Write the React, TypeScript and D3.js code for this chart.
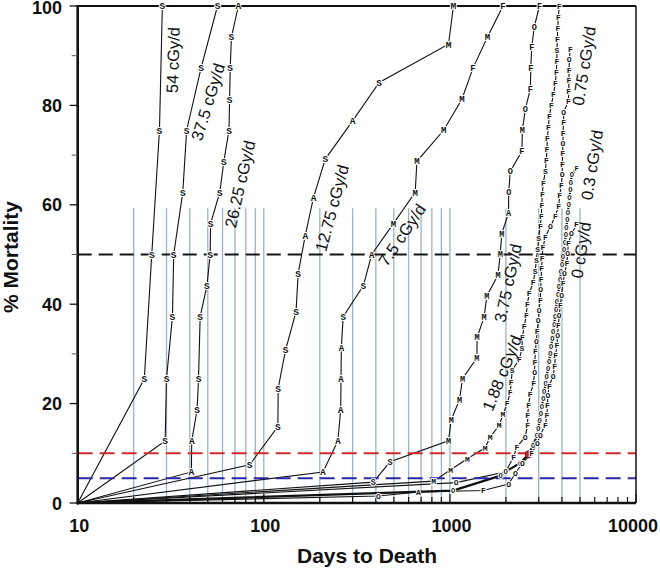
import React from 'react';
import * as d3 from 'd3';

// ---------- data ----------
const xTickValues = [10, 100, 1000, 10000];
const yTickValues = [0, 20, 40, 60, 80, 100];
const yMinorValues = [10, 30, 50, 70, 90];
const gridDays = [20, 30, 40, 50, 60, 70, 80, 90, 100, 200, 300, 400, 500, 600, 700, 800, 900, 1000, 2000, 3000, 4000, 5000];
const gridTopPct = 59.3;
const refPct = [50, 10, 5];

const s54Days = [22.8, 25, 27.5, 28.5];
const s54Pct = [25, 50, 75, 100];
const s54Marks = 'SSSS';

const s37Days = [29.5, 30, 32.3, 32.8, 36.7, 38.5, 46, 56.4];
const s37Pct = [12.5, 25, 37.5, 50, 62.5, 75, 87.5, 100];
const s37Marks = 'SSSSSSSS';

const s26Days = [40.8, 41, 43.8, 44.6, 45.5, 49.5, 51.5, 51.8, 58, 61, 65, 65.5, 66, 67, 73];
const s26Pct = [6.25, 12.5, 18.75, 25, 37.5, 43.75, 50, 56.25, 62.5, 68.75, 75, 81.25, 87.5, 93.75, 100];
const s26Marks = 'AASSSSSSSSSSSSA';

const s12Days = [84, 119, 119.5, 131, 149, 153, 167, 185, 214, 300, 417, 983, 1045];
const s12Pct = [7.7, 15.4, 23.1, 30.8, 38.5, 46.2, 53.8, 61.5, 69.2, 76.9, 84.6, 92.3, 100];
const s12Marks = 'SSSSSSAASASMM';

const s7Days = [208, 250, 259, 260, 261, 267, 343, 380, 498, 651, 665, 925, 1160, 1330, 1592, 1928];
const s7Pct = [6.25, 12.5, 18.75, 25, 31.25, 37.5, 43.75, 50, 56.25, 62.5, 68.75, 75, 81.25, 87.5, 93.75, 100];
const s7Marks = 'AAAAASSAMMMMMFMF';

const s3Days = [388, 477, 983, 1016, 1126, 1169, 1397, 1400, 1528, 1580, 1812, 1863, 1900, 2065, 2070, 2110, 2438, 2450, 2541, 2706, 2720, 2752, 2839, 3030];
const s3Pct = [4.2, 8.3, 12.5, 16.7, 20.8, 25, 29.2, 33.3, 37.5, 41.7, 45.8, 50, 54.2, 58.3, 62.5, 66.7, 70.8, 75, 79.2, 83.3, 87.5, 91.7, 95.8, 100];
const s3Marks = 'SSMMMMMMMMMMMAOOFMOFFFOF';

const s188Days = [817, 1010, 1240, 1547, 1646, 1841, 1928, 2030, 2110, 2136, 2163, 2360, 2440, 2450, 2510, 2573, 2605, 2670, 2805, 2876, 2912, 2965, 2995, 3060, 3098, 3117, 3137, 3176, 3256, 3296, 3323, 3337, 3380, 3422, 3507, 3596, 3685, 3731, 3754, 3760, 3777, 3800, 3825, 3873];
const s188Pct = [4.4, 6.7, 8.9, 11.1, 13.3, 15.6, 17.8, 20, 22.2, 24.4, 26.7, 28.9, 31.1, 33.3, 35.6, 37.8, 40, 42.2, 44.4, 46.7, 48.9, 51.1, 53.3, 55.6, 57.8, 60, 62.2, 64.4, 66.7, 68.9, 71.1, 73.3, 75.6, 77.8, 80, 82.2, 84.4, 86.7, 88.9, 91.1, 93.3, 95.6, 97.8, 100];
const s188Marks = 'MMMMMMMFFFSFSFFFFFFSSSSFFFFFSFFFFFFFFFFSFFFF';

const s075Days = [1082, 2000, 2198, 2292, 2541, 2614, 2620, 2646, 2703, 2815, 2851, 2860, 2880, 2912, 2948, 2984, 3021, 3060, 3075, 3090, 3110, 3130, 3160, 3256, 3464, 3685, 3840, 3890, 3975, 4010, 4020, 4030, 4050, 4055, 4080, 4090, 4330, 4350, 4360, 4370, 4380, 4438];
const s075Pct = [4.1, 6.3, 9.3, 11.3, 13.3, 15.7, 17.7, 19.7, 21.9, 24.1, 26.4, 28.4, 30.5, 32.5, 34.6, 36.7, 38.8, 40.9, 43, 45.1, 47.2, 49.3, 51.4, 53.5, 55.6, 57.7, 59.8, 61.9, 64, 66.1, 68.2, 70.3, 72.4, 74.5, 76.6, 78.7, 80.8, 82.9, 85, 87.1, 89.2, 91.3];
const s075Marks = 'OOFFOFFFFFOFFOFOOFOFFFFFOFFFFOFFOFFOFFFFOF';

const s03Days = [1040, 1870, 1990, 2380, 2650, 2800, 2935, 2990, 3030, 3085, 3120, 3175, 3210, 3270, 3310, 3370, 3410, 3465, 3500, 3555, 3590, 3640, 3675, 3725, 3760, 3820, 3855, 3915, 3950, 4010, 4045, 4110, 4150, 4200, 4225, 4280, 4300, 4355, 4385, 4440, 4460, 4520, 4790];
const s03Pct = [2.5, 5.5, 6.3, 8.0, 9.8, 11.6, 13.5, 15, 16.5, 18, 19.5, 21, 22.5, 24, 25.5, 27, 28.5, 30, 31.5, 33, 34.5, 36, 37.5, 39, 40.5, 42, 43.5, 45, 46.5, 48, 49.5, 51, 52.5, 54, 55.5, 57, 58.5, 60, 61.5, 63, 64.5, 66, 67.3];
const s03Marks = 'OOOORO' + 'OOOOOOOOOOOOOOOOOOOOOOOOOOOOOOOOOOOO' + 'F';

const s0Days = [413, 678, 1512, 2066, 2250, 2450, 2750, 2950, 3060, 3256, 3323, 3340, 3360, 3420, 3590, 3650, 3700, 3760, 3790, 3830, 3870, 3920, 3980, 4055, 4130, 4250, 4290, 4330, 4500, 4790];
const s0Pct = [1.4, 2.2, 2.5, 3.8, 6.0, 8.0, 10.0, 12.0, 13.7, 15.7, 17.6, 19.6, 21.6, 23.6, 25.6, 27.6, 29.8, 31.8, 33.8, 35.8, 37.8, 39.8, 41.9, 44.2, 46.2, 48.2, 50.2, 52.2, 54.2, 56];
const s0Marks = 'OAFOOOFOOFFFOFOFFFOFOFOFOFOFOF';

const seriesLabels = ['54 cGy/d', '37.5 cGy/d', '26.25 cGy/d', '12.75 cGy/d', '7.5 cGy/d', '3.75 cGy/d', '1.88 cGy/d', '0.75 cGy/d', '0.3 cGy/d', '0 cGy/d'];
const seriesDays = [s54Days, s37Days, s26Days, s12Days, s7Days, s3Days, s188Days, s075Days, s03Days, s0Days];
const seriesPct = [s54Pct, s37Pct, s26Pct, s12Pct, s7Pct, s3Pct, s188Pct, s075Pct, s03Pct, s0Pct];
const seriesMarks = [s54Marks, s37Marks, s26Marks, s12Marks, s7Marks, s3Marks, s188Marks, s075Marks, s03Marks, s0Marks];

// ---------- layout / style (not data) ----------
const labelLayout = [
  { cx: 173, cy: 60, angle: -88 },
  { cx: 208, cy: 102, angle: -73 },
  { cx: 240, cy: 184, angle: -77 },
  { cx: 332, cy: 208, angle: -75 },
  { cx: 402, cy: 235, angle: -56 },
  { cx: 508, cy: 283, angle: -78 },
  { cx: 502, cy: 373, angle: -68 },
  { cx: 584, cy: 66, angle: -81 },
  { cx: 592, cy: 165, angle: -81 },
  { cx: 581, cy: 250, angle: -81 },
];
const refColors = ['#151515', '#d12b2b', '#2a2aa6'];
const lineWidths = [1.1, 1.1, 1.1, 1.1, 1.1, 1.1, 1.1, 1.1, 2.2, 1.1];
const markSizes = [9.5, 9.5, 9.5, 9.5, 9, 8.5, 8, 8, 7, 8];

export default function App() {
  const x = d3.scaleLog().domain([10, 10000]).range([77.7, 636]);
  const y = d3.scaleLinear().domain([0, 100]).range([503, 6]);
  const line = d3.line<[number, number]>().x(d => x(d[0])).y(d => y(d[1]));
  const allTicks = x.ticks();
  const sans = '"Liberation Sans", Arial, sans-serif';
  const mono = '"Liberation Mono", "DejaVu Sans Mono", monospace';

  const series = seriesLabels.map((label, i) => ({
    label,
    pts: seriesDays[i].map((d, j) => [d, seriesPct[i][j]] as [number, number]),
    marks: seriesMarks[i],
  }));

  return (
    <svg width={660} height={571} style={{ position: 'absolute', left: 0, top: 0, background: '#fff' }}>
      <rect x={0} y={0} width={660} height={571} fill="#fff" />
      {gridDays.map(d => (
        <line key={'g' + d} x1={x(d)} x2={x(d)} y1={y(gridTopPct)} y2={y(0)} stroke="#9db2c6" strokeWidth={1.3} />
      ))}
      {series.map((s, i) => (
        <path key={'l' + i} d={line([[10, 0], ...s.pts]) || ''} fill="none" stroke="#111" strokeWidth={lineWidths[i]} />
      ))}
      {refPct.map((v, i) => (
        <line key={'r' + v} x1={x(10)} x2={x(10000)} y1={y(v)} y2={y(v)} stroke={refColors[i]} strokeWidth={2}
          strokeDasharray={i === 0 ? '14 7' : '15 7'} />
      ))}
      <line x1={x(10)} x2={x(10000)} y1={y(100)} y2={y(100)} stroke="#111" strokeWidth={2} />
      <line x1={x(10000)} x2={x(10000)} y1={y(100)} y2={y(0)} stroke="#111" strokeWidth={1.5} />
      <line x1={x(10)} x2={x(10)} y1={y(100) - 1} y2={y(0) + 1.5} stroke="#111" strokeWidth={2.6} />
      <line x1={x(10) - 1} x2={x(10000)} y1={y(0)} y2={y(0)} stroke="#111" strokeWidth={2.6} />
      {yTickValues.map(v => (
        <line key={'yt' + v} x1={x(10) - 8} x2={x(10)} y1={y(v)} y2={y(v)} stroke="#111" strokeWidth={1.3} />
      ))}
      {yMinorValues.map(v => (
        <line key={'ym' + v} x1={x(10) - 6} x2={x(10)} y1={y(v)} y2={y(v)} stroke="#555" strokeWidth={1} />
      ))}
      {yTickValues.map(v => (
        <text key={'yl' + v} x={62} y={Math.max(y(v) + 6.5, 14)} textAnchor="end" fontFamily={sans} fontWeight="bold" fontSize={18} fill="#111">{v}</text>
      ))}
      {allTicks.map(t => (
        <line key={'xt' + t} x1={x(t)} x2={x(t)} y1={y(0)} y2={y(0) - (xTickValues.includes(t) ? 9 : 6)} stroke="#111" strokeWidth={1.2} />
      ))}
      {xTickValues.map((v, i) => (
        <text key={'xl' + v} x={i === xTickValues.length - 1 ? 658 : x(v) + 1.5} y={532}
          textAnchor={i === xTickValues.length - 1 ? 'end' : 'middle'} fontFamily={sans} fontWeight="bold" fontSize={18} fill="#111">{v}</text>
      ))}
      <text x={367} y={563} textAnchor="middle" fontFamily={sans} fontWeight="bold" fontSize={21} fill="#111">Days to Death</text>
      <text transform="translate(18,257) rotate(-90)" textAnchor="middle" fontFamily={sans} fontWeight="bold" fontSize={21} fill="#111">% Mortality</text>
      {series.map((s, i) => (
        <g key={'m' + i}>
          {s.pts.map((p, j) => {
            const m = s.marks[j];
            if (m === 'R') {
              return <circle key={j} cx={x(p[0])} cy={y(p[1])} r={3.6} fill="#c4262a" stroke="#5a1010" strokeWidth={0.8} />;
            }
            return (
              <text key={j} x={x(p[0])} y={y(p[1])} dy="0.35em" textAnchor="middle" fontFamily={mono} fontWeight="bold"
                fontSize={markSizes[i]} fill="#111" stroke="#fff" strokeWidth={2} paintOrder="stroke">{m}</text>
            );
          })}
        </g>
      ))}
      {series.map((s, i) => (
        <text key={'sl' + i} transform={`translate(${labelLayout[i].cx},${labelLayout[i].cy}) rotate(${labelLayout[i].angle})`}
          textAnchor="middle" dy="0.35em" fontFamily={sans} fontSize={16.5} fill="#111">{s.label}</text>
      ))}
    </svg>
  );
}
